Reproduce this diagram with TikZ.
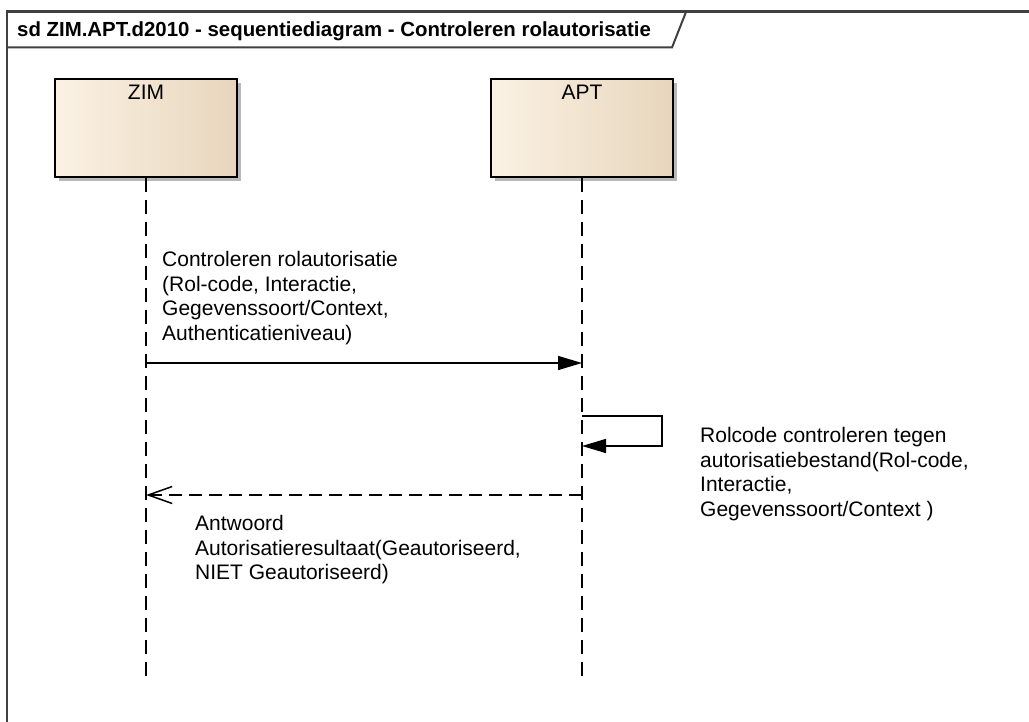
\documentclass[tikz,border=0pt]{standalone}
\usepackage{fontspec}
\setmainfont{Liberation Sans}
\usepackage{tikz}
\usetikzlibrary{positioning, arrows.meta, shadows}

\definecolor{boxleft}{RGB}{251,242,228}
\definecolor{boxright}{RGB}{231,214,188}
\definecolor{framegray}{RGB}{64,64,64}

\begin{document}
\begin{tikzpicture}[x=1pt, y=-1pt,
    txt/.style={font=\fontsize{21}{24.6}\selectfont},
    lifebox/.style={draw, line width=2pt, txt, left color=boxleft, right color=boxright,
        minimum width=182pt, minimum height=98pt, inner sep=6pt,
        text height=15pt, text depth=71pt,
        drop shadow={shadow xshift=4pt, shadow yshift=-4pt, fill=black!28, opacity=1}},
    lifeline/.style={line width=1.5pt, dash pattern=on 14pt off 8pt},
    syncmsg/.style={line width=1.5pt, -{Triangle[length=24pt, width=14pt]}},
    replymsg/.style={line width=1.5pt, dash pattern=on 13pt off 7pt, -{Straight Barb[length=24pt, width=17pt]}},
    msgtext/.style={txt, align=left, inner sep=0pt, anchor=north west}
    ]

    \useasboundingbox (0,0) rectangle (1029,722);

    % frame with title tab
    \draw[framegray, line width=2.5pt] (7,722) -- (7,11.5) -- (1029,11.5);
    \draw[framegray, line width=2pt] (7,47.5) -- (672,47.5) -- (686,12);
    \node(title)[font=\fontsize{20.4}{24}\selectfont\bfseries, anchor=base west, inner sep=0pt] at (17,37) {sd ZIM.APT.d2010 - sequentiediagram - Controleren rolautorisatie};

    % lifelines
    \node(zim)[lifebox] at (146,128) {ZIM};
    \node(apt)[lifebox, right=252pt of zim] {APT};

    \coordinate(zimEnd) at (zim.south |- 0,680);
    \coordinate(aptEnd) at (apt.south |- 0,680);
    \draw[lifeline] (zim) -- (zimEnd);
    \draw[lifeline] (apt) -- (aptEnd);

    % messages
    \coordinate(zimCall) at (zim.south |- 0,363);
    \coordinate(aptCall) at (apt.south |- 0,363);
    \coordinate(aptSelfOut) at (apt.south |- 0,416);
    \coordinate(aptSelfIn) at (apt.south |- 0,446);
    \coordinate(aptReply) at (apt.south |- 0,495);
    \coordinate(zimReply) at (zim.south |- 0,495);

    \draw[syncmsg] (zimCall) -- (aptCall);
    \draw[syncmsg] (aptSelfOut) -- ++(80,0) |- (aptSelfIn);
    \draw[replymsg] (aptReply) -- (zimReply);

    \node(callText)[msgtext] at (162,251) {Controleren rolautorisatie\\(Rol-code, Interactie,\\Gegevenssoort/Context,\\Authenticatieniveau)};
    \node(selfText)[msgtext] at (700,427) {Rolcode controleren tegen\\autorisatiebestand(Rol-code,\\Interactie,\\Gegevenssoort/Context )};
    \node(replyText)[msgtext] at (195,515) {Antwoord\\Autorisatieresultaat(Geautoriseerd,\\NIET Geautoriseerd)};

\end{tikzpicture}
\end{document}
